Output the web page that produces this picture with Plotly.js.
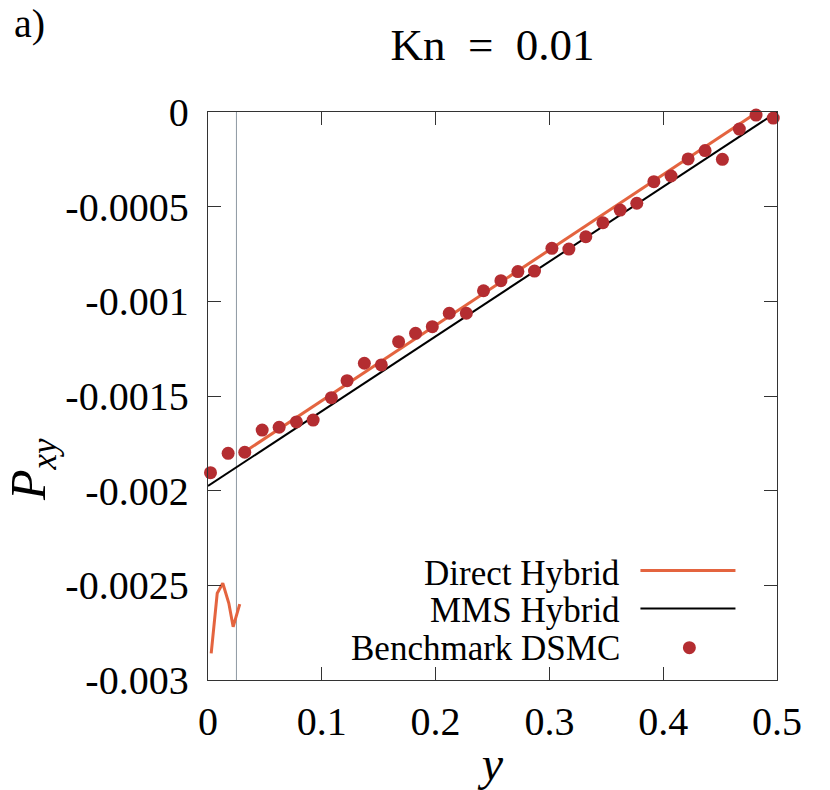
<!DOCTYPE html>
<html>
<head>
<meta charset="utf-8">
<script src="https://cdn.plot.ly/plotly-3.0.1.min.js"></script>
<style>
  html, body { margin: 0; padding: 0; background: #ffffff; }
  #chart { width: 830px; height: 790px; }
</style>
</head>
<body>
<div id="chart"></div>
<script>
// ---- data ----
const dsmcX = [0.0022, 0.0177, 0.0323, 0.0476, 0.0625, 0.0777, 0.0924, 0.1084, 0.1222, 0.1374,
               0.1523, 0.1675, 0.1824, 0.1971, 0.2120, 0.2270, 0.2421, 0.2574, 0.2723, 0.2869,
               0.3022, 0.3171, 0.3320, 0.3470, 0.3622, 0.3768, 0.3918, 0.4069, 0.4219, 0.4368,
               0.4520, 0.4669, 0.4816, 0.4967];
const dsmcY = [-0.001905, -0.001803, -0.001797, -0.001680, -0.001665, -0.001637, -0.001627, -0.001509, -0.001419, -0.001327,
               -0.001336, -0.001213, -0.001169, -0.001134, -0.001063, -0.001063, -0.000944, -0.000891, -0.000843, -0.000840,
               -0.000720, -0.000724, -0.000659, -0.000585, -0.000518, -0.000482, -0.000368, -0.000338, -0.000248, -0.000204,
               -0.000250, -0.000090, -0.000016, -0.000032];

// Direct hybrid: near-wall particle region + continuum region
const directNearX = [0.0028, 0.0081, 0.0130, 0.0183, 0.0221, 0.0279];
const directNearY = [-0.002859, -0.002542, -0.002489, -0.002595, -0.002719, -0.002599];
const directX = [0.0279, 0.4830];
const directY = [-0.001812, 0.0];

const mmsX = [0.0, 0.5];
const mmsY = [-0.001975, 0.0];

const interfaceX = 0.025;

const xTickVals = [0, 0.1, 0.2, 0.3, 0.4, 0.5];
const xTickText = ['0', '0.1', '0.2', '0.3', '0.4', '0.5'];
const yTickVals = [0, -0.0005, -0.001, -0.0015, -0.002, -0.0025, -0.003];
const yTickText = ['0', '-0.0005', '-0.001', '-0.0015', '-0.002', '-0.0025', '-0.003'];

const seriesNames = ['Direct Hybrid', 'MMS Hybrid', 'Benchmark DSMC'];
const titleText = 'Kn\u2002=\u20020.01';
const xTitleText = '<i>y</i>';
const yTitleText = '<i>P</i><sub><i>xy</i></sub>';
const panelLabel = 'a)';

// ---- styles ----
const FONT = 'Liberation Serif';
const ORANGE = '#e4643f';
const DOT = '#b42d31';

const traces = [
  {
    x: directNearX.concat([null], directX),
    y: directNearY.concat([null], directY),
    mode: 'lines', name: seriesNames[0],
    line: { color: ORANGE, width: 3 },
    connectgaps: false, showlegend: false, hoverinfo: 'skip'
  },
  {
    x: mmsX, y: mmsY, mode: 'lines', name: seriesNames[1],
    line: { color: '#000000', width: 2 }, showlegend: false, hoverinfo: 'skip'
  },
  {
    x: dsmcX, y: dsmcY, mode: 'markers', name: seriesNames[2],
    marker: { color: DOT, size: 13 }, cliponaxis: false, showlegend: false, hoverinfo: 'skip'
  }
];

// legend drawn to the right of right-aligned labels, as in the reference
const legRowY = [0.188, 0.122, 0.056];
const legFont = { family: FONT, size: 35, color: '#000000' };
const annotations = [
  { text: seriesNames[0], xref: 'paper', yref: 'paper', x: 0.727, y: legRowY[0], xanchor: 'right', yanchor: 'middle', showarrow: false, font: legFont },
  { text: seriesNames[1], xref: 'paper', yref: 'paper', x: 0.727, y: legRowY[1], xanchor: 'right', yanchor: 'middle', showarrow: false, font: legFont },
  { text: seriesNames[2], xref: 'paper', yref: 'paper', x: 0.727, y: legRowY[2], xanchor: 'right', yanchor: 'middle', showarrow: false, font: legFont },
  { text: panelLabel, xref: 'paper', yref: 'paper', x: -0.345, y: 1.155, xanchor: 'left', yanchor: 'middle', showarrow: false, font: { family: FONT, size: 40, color: '#000000' } },
  { text: yTitleText, xref: 'paper', yref: 'paper', x: -0.309, y: 0.37, xanchor: 'center', yanchor: 'middle', textangle: -90, showarrow: false, font: { family: FONT, size: 50, color: '#000000' } }
];

const shapes = [
  { type: 'line', xref: 'x', yref: 'paper', x0: interfaceX, x1: interfaceX, y0: 0, y1: 1, line: { color: '#8e98a2', width: 1 }, layer: 'below' },
  { type: 'line', xref: 'paper', yref: 'paper', x0: 0.760, x1: 0.927, y0: legRowY[0] + 0.005, y1: legRowY[0] + 0.005, line: { color: ORANGE, width: 3 } },
  { type: 'line', xref: 'paper', yref: 'paper', x0: 0.760, x1: 0.927, y0: legRowY[1] + 0.004, y1: legRowY[1] + 0.004, line: { color: '#000', width: 2 } },
  { type: 'circle', xref: 'paper', yref: 'paper', x0: 0.8346, x1: 0.8574, y0: 0.0455, y1: 0.0683, fillcolor: DOT, line: { width: 0 } }
];

const layout = {
  width: 830, height: 790,
  paper_bgcolor: '#ffffff', plot_bgcolor: '#ffffff',
  margin: { l: 208, r: 53, t: 112, b: 110 },
  showlegend: false,
  font: { family: FONT, color: '#000000' },
  title: {
    text: titleText, font: { family: FONT, size: 45, color: '#000000' },
    x: 0.5, xref: 'paper', xanchor: 'center', y: 0.944, yanchor: 'middle'
  },
  xaxis: {
    range: [0, 0.5], tickvals: xTickVals, ticktext: xTickText,
    ticks: 'inside', ticklen: 13, tickwidth: 1, tickcolor: '#333',
    showline: true, linecolor: '#333', linewidth: 1.3, mirror: 'ticks',
    showgrid: false, zeroline: false,
    tickfont: { family: FONT, size: 40, color: '#000000' },
    ticklabelstandoff: 6,
    title: { text: xTitleText, font: { family: FONT, size: 48, color: '#000000' }, standoff: 4 }
  },
  yaxis: {
    range: [-0.003, 0], tickvals: yTickVals, ticktext: yTickText,
    ticks: 'inside', ticklen: 13, tickwidth: 1, tickcolor: '#333',
    showline: true, linecolor: '#333', linewidth: 1.3, mirror: 'ticks',
    showgrid: false, zeroline: false,
    tickfont: { family: FONT, size: 40, color: '#000000' },
    ticklabelstandoff: 10
  },
  annotations: annotations,
  shapes: shapes
};

Plotly.newPlot('chart', traces, layout, { staticPlot: true, displayModeBar: false });
</script>
</body>
</html>
